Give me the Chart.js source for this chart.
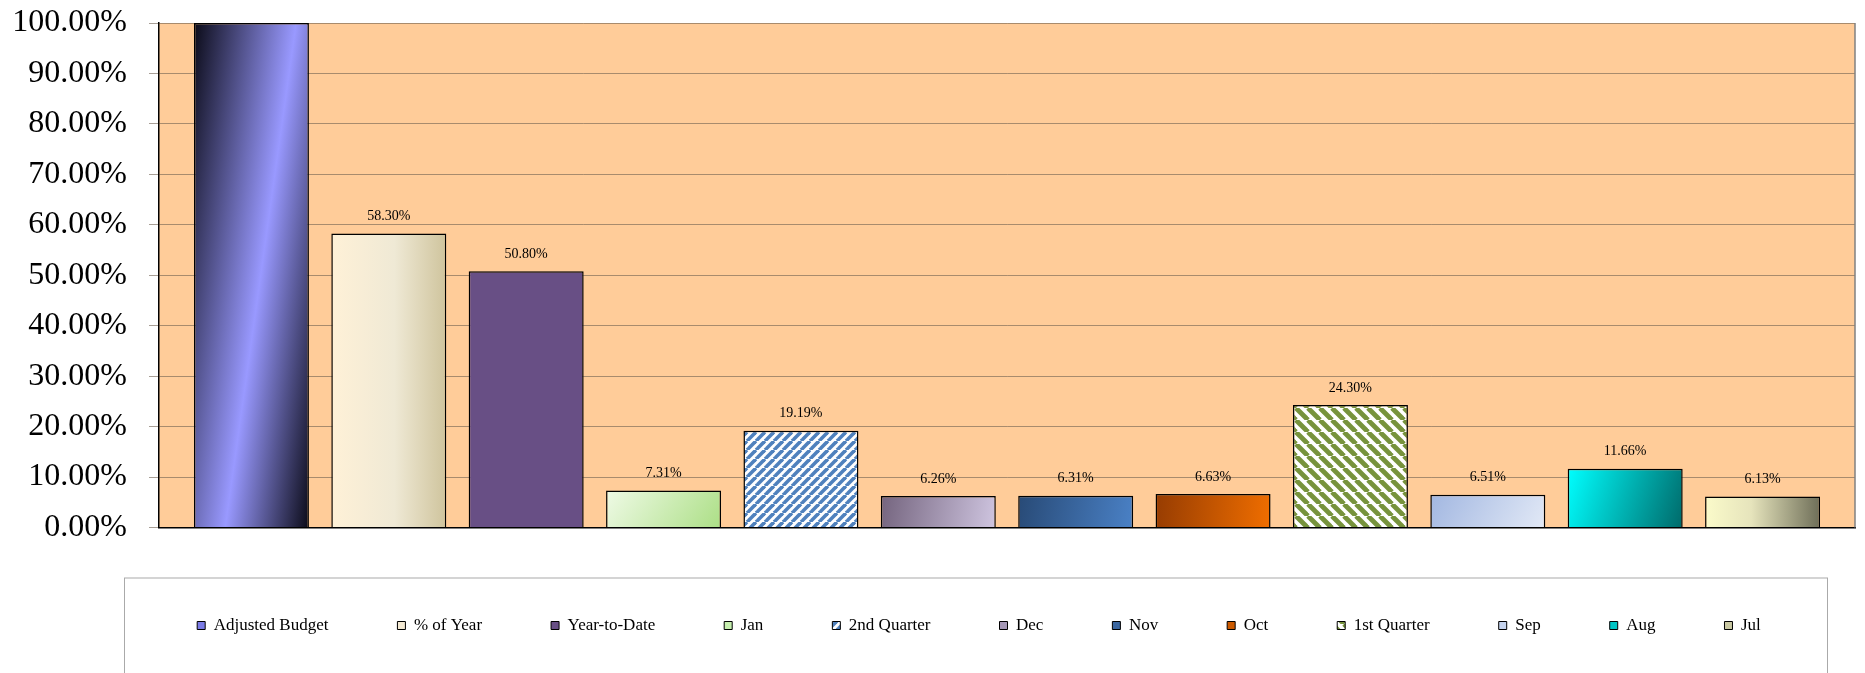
<!DOCTYPE html>
<html>
<head>
<meta charset="utf-8">
<script src="https://cdn.jsdelivr.net/npm/chart.js@4.4.0/dist/chart.umd.min.js"></script>
<style>
    html, body { margin: 0; padding: 0; background: #fff; }
    #wrap { width: 1865px; height: 673px; }
</style>
</head>
<body>
<div id="wrap"><canvas id="budget-chart"></canvas></div>
<script>
// Chart data - one bar per series, values in percent
let seriesNames = ['Adjusted Budget', '% of Year', 'Year-to-Date', 'Jan', '2nd Quarter', 'Dec', 'Nov', 'Oct', '1st Quarter', 'Sep', 'Aug', 'Jul'];
let seriesValues = [100.00, 58.30, 50.80, 7.31, 19.19, 6.26, 6.31, 6.63, 24.30, 6.51, 11.66, 6.13];
let yTickValues = [0, 10, 20, 30, 40, 50, 60, 70, 80, 90, 100];

// Fill styles, same order as the series (angle in degrees, 0 = left to right)
let barFills = [
    {type: 'grad', angle: 8, stops: [[0, '#0b0b18'], [0.55, '#9999ff'], [1, '#0b0b18']], legend: '#7b7be6'},
    {type: 'grad', angle: 0, stops: [[0, '#fff1d7'], [0.55, '#efe9d5'], [1, '#cfc49d']], legend: '#f4ead3'},
    {type: 'solid', color: '#684f85'},
    {type: 'grad', angle: 35, stops: [[0, '#effae6'], [1, '#acdf86']], legend: '#c6efae'},
    {type: 'hatch', color: '#4f81bd', period: 9, dir: 1},
    {type: 'grad', angle: 10, stops: [[0, '#74647e'], [1, '#cfc5e0']], legend: '#a597b6'},
    {type: 'grad', angle: 10, stops: [[0, '#284a76'], [1, '#4a81c6']], legend: '#3a66a0'},
    {type: 'grad', angle: 5, stops: [[0, '#963c02'], [1, '#f06e00']], legend: '#cc5a00'},
    {type: 'hatch', color: '#77933c', period: 12, dir: -1},
    {type: 'grad', angle: 30, stops: [[0, '#a2b7e1'], [1, '#e2e9f6']], legend: '#c5d3ee'},
    {type: 'grad', angle: 18, stops: [[0, '#00ffff'], [1, '#006a6a']], legend: '#00c4c4'},
    {type: 'grad', angle: 0, stops: [[0, '#fbfbca'], [0.4, '#e6e4bc'], [1, '#6e6e58']], legend: '#c9c8a2'}
];

// Build a repeating diagonal stripe pattern
function makeHatch(fill) {
    let p = fill.period;
    let tile = document.createElement('canvas');
    tile.width = p;
    tile.height = p;
    let t = tile.getContext('2d');
    t.fillStyle = '#fff';
    t.fillRect(0, 0, p, p);
    t.strokeStyle = fill.color;
    t.lineWidth = p * 0.4;
    for (let x0 = -p; x0 <= p; x0 += p) {
        t.beginPath();
        if (fill.dir > 0) {
            t.moveTo(x0, p);
            t.lineTo(x0 + p, 0);
        } else {
            t.moveTo(x0, 0);
            t.lineTo(x0 + p, p);
        }
        t.stroke();
    }
    return t.createPattern(tile, 'repeat');
}

let hatchCache = {};
function hatchFor(i) {
    if (!hatchCache[i]) hatchCache[i] = makeHatch(barFills[i]);
    return hatchCache[i];
}

// Background for a bar, using the bar element's own geometry
function barBackground(c) {
    let i = c.datasetIndex;
    let fill = barFills[i];
    if (fill.type === 'solid') return fill.color;
    if (fill.type === 'hatch') return hatchFor(i);
    let el = c.element;
    if (!el || el.x === undefined || el.width === undefined) return fill.legend;
    let left = el.x - el.width / 2;
    let top = Math.min(el.y, el.base);
    let h = Math.abs(el.base - el.y);
    let a = fill.angle * Math.PI / 180;
    let len = el.width * Math.cos(a) + h * Math.sin(a);
    let g = c.chart.ctx.createLinearGradient(left, top, left + len * Math.cos(a), top + len * Math.sin(a));
    fill.stops.forEach(s => g.addColorStop(s[0], s[1]));
    return g;
}

function legendSwatch(i) {
    let fill = barFills[i];
    if (fill.type === 'solid') return fill.color;
    if (fill.type === 'hatch') return hatchFor(i);
    return fill.legend;
}

// Plugin - peach plot background, right border and legend frame
const plotDecor = {
    id: 'plotDecor',
    afterLayout(chart) {
        // centre the legend row inside its frame
        let lg = chart.legend;
        let frameCenter = ((chart.chartArea.left - 35) + (chart.chartArea.right - 28)) / 2 + 3.5;
        let shift = frameCenter - (lg.left + lg.right) / 2;
        lg.left += shift;
        lg.right += shift;
    },
    beforeDraw(chart) {
        let {ctx, chartArea} = chart;
        ctx.save();
        ctx.fillStyle = '#ffcc99';
        ctx.fillRect(chartArea.left, chartArea.top, chartArea.right - chartArea.left, chartArea.bottom - chartArea.top);
        ctx.restore();
    },
    afterDraw(chart) {
        let {ctx, chartArea} = chart;
        ctx.save();
        ctx.strokeStyle = '#808080';
        ctx.lineWidth = 1.5;
        ctx.beginPath();
        ctx.moveTo(chartArea.right, chartArea.top);
        ctx.lineTo(chartArea.right, chartArea.bottom);
        ctx.stroke();
        ctx.strokeStyle = '#aaaaaa';
        ctx.lineWidth = 1;
        ctx.strokeRect(chartArea.left - 34.5, chartArea.bottom + 50.5, 1703, 200);
        ctx.restore();
    }
};

// Plugin - value labels above the bars
const valueLabels = {
    id: 'valueLabels',
    afterDatasetsDraw(chart) {
        let ctx = chart.ctx;
        ctx.save();
        ctx.font = '14px "Liberation Serif"';
        ctx.fillStyle = '#000';
        ctx.textAlign = 'center';
        ctx.textBaseline = 'middle';
        chart.data.datasets.forEach((ds, i) => {
            let bar = chart.getDatasetMeta(i).data[0];
            let y = bar.y - 17;
            if (y < chart.chartArea.top) return;
            ctx.fillText(ds.data[0].toFixed(2) + '%', bar.x, y);
        });
        ctx.restore();
    }
};

Chart.defaults.font.family = '"Liberation Serif", "Times New Roman", serif';
Chart.defaults.color = '#000';

let datasets = seriesNames.map((name, i) => ({
    label: name,
    data: [seriesValues[i]],
    backgroundColor: barBackground,
    borderColor: '#000',
    borderWidth: 1.5,
    categoryPercentage: 0.972,
    barPercentage: 0.837
}));

let ctx = document.getElementById('budget-chart').getContext('2d');
let budgetChart = new Chart(ctx, {
    type: 'bar',
    data: {
        labels: [''],
        datasets: datasets
    },
    options: {
        responsive: true,
        maintainAspectRatio: false,
        animation: false,
        layout: {
            padding: {top: 23, left: 0, right: 10, bottom: 29}
        },
        plugins: {
            tooltip: {enabled: false},
            legend: {
                position: 'bottom',
                labels: {
                    boxWidth: 8,
                    boxHeight: 8,
                    padding: 69,
                    font: {size: 17},
                    generateLabels: chart => chart.data.datasets.map((ds, i) => ({
                        text: ds.label,
                        fillStyle: legendSwatch(i),
                        strokeStyle: '#000',
                        lineWidth: 1,
                        hidden: false,
                        datasetIndex: i
                    }))
                }
            }
        },
        scales: {
            x: {
                grid: {display: false},
                ticks: {display: false},
                border: {color: '#000', width: 1.5},
                afterFit: s => { s.height = 20.5; }
            },
            y: {
                min: 0,
                max: 100,
                afterBuildTicks: s => { s.ticks = yTickValues.map(v => ({value: v})); },
                afterFit: s => {
                    s.width = 159;
                    s.paddingTop = 0;
                    s.paddingBottom = 0;
                },
                ticks: {
                    padding: 22,
                    font: {size: 32},
                    callback: v => v.toFixed(2) + '%'
                },
                grid: {
                    color: 'rgba(110, 95, 80, 0.6)',
                    tickLength: 10
                },
                border: {color: '#000', width: 1.5}
            }
        }
    },
    plugins: [plotDecor, valueLabels]
});

// Second pass so the gradients can use the final bar positions
budgetChart.update();
</script>
</body>
</html>
